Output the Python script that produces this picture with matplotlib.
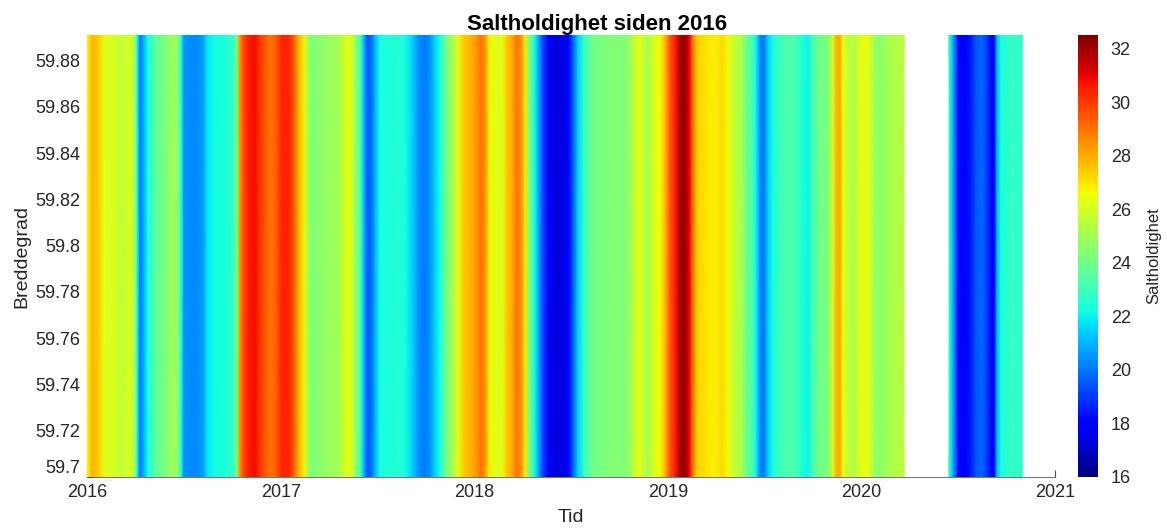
import numpy as np
import matplotlib
matplotlib.use("Agg")
import matplotlib.pyplot as plt

plt.rcParams['font.family'] = ['Liberation Sans', 'DejaVu Sans']

# Salinity along the ferry route, decimal year vs value (same at all latitudes)
times_a = [2016.000, 2016.026, 2016.057, 2016.088, 2016.145, 2016.181, 2016.222, 2016.248,
           2016.258, 2016.274, 2016.294, 2016.315, 2016.351, 2016.403, 2016.439, 2016.470,
           2016.486, 2016.501, 2016.558, 2016.599, 2016.620, 2016.661, 2016.713, 2016.754,
           2016.775, 2016.790, 2016.806, 2016.832, 2016.868, 2016.894, 2016.919, 2016.945,
           2016.976, 2017.007, 2017.049, 2017.074, 2017.095, 2017.121, 2017.142, 2017.162,
           2017.204, 2017.255, 2017.307, 2017.338, 2017.369, 2017.390, 2017.410, 2017.426,
           2017.446, 2017.467, 2017.488, 2017.513, 2017.591, 2017.643, 2017.679, 2017.710,
           2017.746, 2017.772, 2017.798, 2017.823, 2017.854, 2017.885, 2017.916, 2017.947,
           2017.978, 2018.009, 2018.035, 2018.056, 2018.076, 2018.107, 2018.144, 2018.169,
           2018.195, 2018.221, 2018.242, 2018.262, 2018.288, 2018.309, 2018.330, 2018.350,
           2018.381, 2018.423, 2018.454, 2018.485, 2018.510, 2018.536, 2018.567, 2018.609,
           2018.676, 2018.727, 2018.779, 2018.815, 2018.841, 2018.867, 2018.898, 2018.929,
           2018.960, 2018.986, 2019.011, 2019.037, 2019.063, 2019.089, 2019.110, 2019.125,
           2019.146, 2019.192, 2019.244, 2019.280, 2019.311, 2019.347, 2019.383, 2019.409,
           2019.435, 2019.456, 2019.476, 2019.497, 2019.518, 2019.543, 2019.580, 2019.631,
           2019.673, 2019.698, 2019.724, 2019.750, 2019.786, 2019.828, 2019.853, 2019.869,
           2019.890, 2019.905, 2019.931, 2019.967, 2019.993, 2020.034, 2020.065, 2020.096,
           2020.127, 2020.174, 2020.220]
salt_a = [26.5, 27.8, 27.5, 26.3, 26.0, 25.6, 26.2, 25.0,
          22.5, 20.0, 21.0, 22.3, 23.5, 24.2, 25.0, 24.6,
          22.5, 20.5, 20.3, 20.6, 21.8, 22.2, 22.3, 22.8,
          24.0, 28.5, 29.5, 30.5, 30.8, 30.0, 29.5, 29.0,
          29.3, 30.5, 30.3, 29.0, 27.8, 26.8, 25.0, 24.3,
          24.6, 24.8, 25.2, 26.3, 26.0, 24.5, 23.5, 21.5,
          19.5, 19.8, 21.0, 22.2, 22.5, 22.3, 21.5, 20.5,
          20.0, 20.5, 21.5, 22.2, 24.0, 25.0, 26.3, 27.5,
          27.8, 28.3, 29.0, 28.5, 26.8, 26.2, 26.3, 27.5,
          28.0, 29.0, 28.5, 27.0, 24.0, 22.5, 21.0, 19.5,
          18.0, 17.3, 17.5, 17.8, 19.5, 21.5, 22.8, 24.0,
          24.3, 24.5, 24.3, 25.2, 26.2, 26.0, 25.0, 26.2,
          26.6, 27.8, 29.5, 30.5, 31.8, 32.2, 31.0, 29.5,
          27.5, 27.0, 26.8, 27.2, 26.6, 25.6, 25.2, 23.8,
          23.4, 22.0, 20.3, 20.0, 21.5, 22.2, 23.0, 23.3,
          23.0, 22.3, 22.0, 23.3, 24.0, 24.3, 26.0, 27.8,
          28.0, 26.5, 25.6, 25.3, 26.3, 26.4, 25.0, 24.5,
          25.0, 25.3, 25.5]

times_b = [2020.452, 2020.473, 2020.499, 2020.535, 2020.566, 2020.592, 2020.623,
           2020.649, 2020.669, 2020.685, 2020.700, 2020.721, 2020.768, 2020.830]
salt_b = [23.0, 21.0, 18.2, 18.0, 18.5, 19.5, 19.8,
          19.0, 18.2, 17.5, 21.0, 22.3, 22.8, 22.6]

lat = [59.7, 59.891]
lat_ticks = [59.7, 59.72, 59.74, 59.76, 59.78, 59.8, 59.82, 59.84, 59.86, 59.88]
lat_labels = ['59.7', '59.72', '59.74', '59.76', '59.78', '59.8',
              '59.82', '59.84', '59.86', '59.88']
year_ticks = [2016, 2017, 2018, 2019, 2020, 2021]
cbar_ticks = [16, 18, 20, 22, 24, 26, 28, 30, 32]

fig = plt.figure(figsize=(11.67, 5.28), dpi=100)
ax = fig.add_axes([0.0746, 0.0966, 0.8295, 0.837])
cax = fig.add_axes([0.9240, 0.0966, 0.0170, 0.837])

for t, s in [(times_a, salt_a), (times_b, salt_b)]:
    Z = np.vstack([s, s])
    mesh = ax.pcolormesh(t, lat, Z, cmap='jet', vmin=16, vmax=32.5,
                         shading='gouraud', zorder=1)

ax.set_xlim(2016, 2021)
ax.set_ylim(59.7, 59.891)
ax.set_xticks(year_ticks)
ax.set_xticklabels([str(y) for y in year_ticks])
ax.set_yticks(lat_ticks)
ax.set_yticklabels(lat_labels)
ax.tick_params(direction='in', length=5, labelsize=13, colors='#555555',
               labelcolor='#262626', width=0.8)
ax.tick_params(axis='x', pad=5)
ax.tick_params(axis='y', pad=5)
# lowest latitude label sits a bit higher, as in the original
ax.get_yticklabels()[0].set_va('bottom')
ax.set_axisbelow(True)
for side in ['top', 'right']:
    ax.spines[side].set_visible(False)
for side in ['bottom', 'left']:
    ax.spines[side].set_zorder(0.5)
    ax.spines[side].set_color('#777777')
    ax.spines[side].set_linewidth(0.8)

ax.set_title('Saltholdighet siden 2016', fontsize=16, fontweight='bold', pad=2, x=0.527)
ax.set_ylabel('Breddegrad', fontsize=14, color='#262626', labelpad=3)
ax.set_xlabel('Tid', fontsize=14, color='#262626', labelpad=6)

cb = fig.colorbar(mesh, cax=cax, ticks=cbar_ticks)
cb.outline.set_visible(False)
cb.ax.tick_params(direction='in', length=0, labelsize=13, labelcolor='#262626', pad=9)
cb.set_label('Saltholdighet', fontsize=12, color='#262626', labelpad=11)

fig.savefig('out.png', dpi=100)
